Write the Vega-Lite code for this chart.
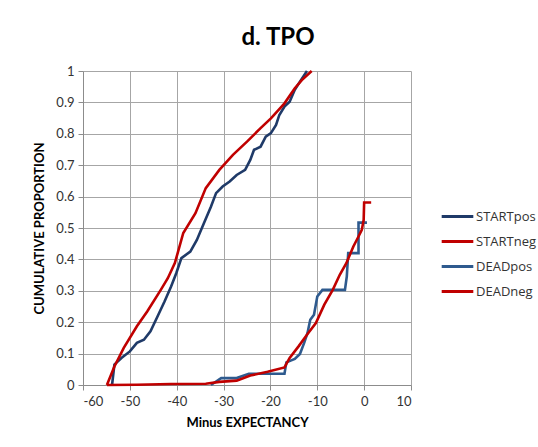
{
  "$schema": "https://vega.github.io/schema/vega-lite/v6.json",
  "autosize": "none",
  "width": 328,
  "height": 314,
  "padding": {"left": 83, "top": 71, "right": 127, "bottom": 62},
  "background": "white",
  "title": {"text": "d. TPO", "font": "Lato", "fontSize": 24, "fontWeight": "bold", "color": "#000000", "anchor": "middle", "frame": "group", "dx": 31, "baseline": "alphabetic", "offset": 24, "dy": 28},
  "datasets": {
    "curves": [
      {"series": "STARTpos", "x": -53.8, "y": 0},
      {"series": "STARTpos", "x": -53.3, "y": 0.065},
      {"series": "STARTpos", "x": -51.8, "y": 0.086},
      {"series": "STARTpos", "x": -50.0, "y": 0.107},
      {"series": "STARTpos", "x": -48.5, "y": 0.134},
      {"series": "STARTpos", "x": -47.0, "y": 0.144},
      {"series": "STARTpos", "x": -45.6, "y": 0.171},
      {"series": "STARTpos", "x": -44.1, "y": 0.218},
      {"series": "STARTpos", "x": -42.6, "y": 0.266},
      {"series": "STARTpos", "x": -41.2, "y": 0.314},
      {"series": "STARTpos", "x": -40.1, "y": 0.356},
      {"series": "STARTpos", "x": -39.0, "y": 0.404},
      {"series": "STARTpos", "x": -37.1, "y": 0.425},
      {"series": "STARTpos", "x": -35.7, "y": 0.462},
      {"series": "STARTpos", "x": -34.2, "y": 0.515},
      {"series": "STARTpos", "x": -32.7, "y": 0.568},
      {"series": "STARTpos", "x": -31.6, "y": 0.611},
      {"series": "STARTpos", "x": -30.2, "y": 0.632},
      {"series": "STARTpos", "x": -28.7, "y": 0.648},
      {"series": "STARTpos", "x": -27.2, "y": 0.669},
      {"series": "STARTpos", "x": -25.4, "y": 0.685},
      {"series": "STARTpos", "x": -24.3, "y": 0.717},
      {"series": "STARTpos", "x": -23.5, "y": 0.749},
      {"series": "STARTpos", "x": -22.1, "y": 0.759},
      {"series": "STARTpos", "x": -21.0, "y": 0.791},
      {"series": "STARTpos", "x": -19.9, "y": 0.802},
      {"series": "STARTpos", "x": -18.8, "y": 0.828},
      {"series": "STARTpos", "x": -18.1, "y": 0.860},
      {"series": "STARTpos", "x": -17.0, "y": 0.887},
      {"series": "STARTpos", "x": -15.9, "y": 0.902},
      {"series": "STARTpos", "x": -14.8, "y": 0.940},
      {"series": "STARTpos", "x": -13.7, "y": 0.966},
      {"series": "STARTpos", "x": -12.2, "y": 1.0},
      {"series": "STARTneg", "x": -54.9, "y": 0},
      {"series": "STARTneg", "x": -53.3, "y": 0.059},
      {"series": "STARTneg", "x": -51.3, "y": 0.118},
      {"series": "STARTneg", "x": -48.5, "y": 0.187},
      {"series": "STARTneg", "x": -46.3, "y": 0.234},
      {"series": "STARTneg", "x": -43.4, "y": 0.303},
      {"series": "STARTneg", "x": -41.9, "y": 0.340},
      {"series": "STARTneg", "x": -40.4, "y": 0.388},
      {"series": "STARTneg", "x": -38.6, "y": 0.484},
      {"series": "STARTneg", "x": -36.0, "y": 0.547},
      {"series": "STARTneg", "x": -33.8, "y": 0.627},
      {"series": "STARTneg", "x": -30.9, "y": 0.685},
      {"series": "STARTneg", "x": -28.0, "y": 0.733},
      {"series": "STARTneg", "x": -25.0, "y": 0.775},
      {"series": "STARTneg", "x": -22.1, "y": 0.818},
      {"series": "STARTneg", "x": -19.9, "y": 0.849},
      {"series": "STARTneg", "x": -17.0, "y": 0.897},
      {"series": "STARTneg", "x": -14.8, "y": 0.945},
      {"series": "STARTneg", "x": -13.3, "y": 0.971},
      {"series": "STARTneg", "x": -11.2, "y": 1.0},
      {"series": "DEADpos", "x": -32.7, "y": 0},
      {"series": "DEADpos", "x": -30.5, "y": 0.022},
      {"series": "DEADpos", "x": -27.2, "y": 0.022},
      {"series": "DEADpos", "x": -24.6, "y": 0.036},
      {"series": "DEADpos", "x": -17.0, "y": 0.036},
      {"series": "DEADpos", "x": -16.6, "y": 0.072},
      {"series": "DEADpos", "x": -14.8, "y": 0.083},
      {"series": "DEADpos", "x": -13.7, "y": 0.099},
      {"series": "DEADpos", "x": -12.8, "y": 0.134},
      {"series": "DEADpos", "x": -12.1, "y": 0.165},
      {"series": "DEADpos", "x": -11.5, "y": 0.208},
      {"series": "DEADpos", "x": -10.7, "y": 0.224},
      {"series": "DEADpos", "x": -10.0, "y": 0.282},
      {"series": "DEADpos", "x": -8.9, "y": 0.303},
      {"series": "DEADpos", "x": -4.1, "y": 0.303},
      {"series": "DEADpos", "x": -3.7, "y": 0.346},
      {"series": "DEADpos", "x": -3.4, "y": 0.420},
      {"series": "DEADpos", "x": -1.2, "y": 0.420},
      {"series": "DEADpos", "x": -1.2, "y": 0.517},
      {"series": "DEADpos", "x": 0.6, "y": 0.517},
      {"series": "DEADneg", "x": -54.9, "y": 0},
      {"series": "DEADneg", "x": -48.5, "y": 0.001},
      {"series": "DEADneg", "x": -41.2, "y": 0.003},
      {"series": "DEADneg", "x": -33.8, "y": 0.004},
      {"series": "DEADneg", "x": -30.9, "y": 0.010},
      {"series": "DEADneg", "x": -27.2, "y": 0.014},
      {"series": "DEADneg", "x": -24.3, "y": 0.030},
      {"series": "DEADneg", "x": -20.6, "y": 0.042},
      {"series": "DEADneg", "x": -17.0, "y": 0.056},
      {"series": "DEADneg", "x": -15.9, "y": 0.086},
      {"series": "DEADneg", "x": -14.0, "y": 0.123},
      {"series": "DEADneg", "x": -12.2, "y": 0.160},
      {"series": "DEADneg", "x": -10.3, "y": 0.197},
      {"series": "DEADneg", "x": -8.5, "y": 0.256},
      {"series": "DEADneg", "x": -6.7, "y": 0.303},
      {"series": "DEADneg", "x": -5.2, "y": 0.351},
      {"series": "DEADneg", "x": -3.8, "y": 0.388},
      {"series": "DEADneg", "x": -2.3, "y": 0.441},
      {"series": "DEADneg", "x": -1.2, "y": 0.473},
      {"series": "DEADneg", "x": -0.5, "y": 0.494},
      {"series": "DEADneg", "x": -0.1, "y": 0.526},
      {"series": "DEADneg", "x": 0.0, "y": 0.581},
      {"series": "DEADneg", "x": 1.5, "y": 0.581}
    ]
  },
  "data": {"name": "curves"},
  "mark": {"type": "line", "strokeWidth": 2.6, "clip": false},
  "encoding": {
    "x": {
      "field": "x", "type": "quantitative",
      "scale": {"domain": [-60, 10], "nice": false, "zero": false},
      "axis": {"title": "Minus EXPECTANCY", "values": [-60, -50, -40, -30, -20, -10, 0, 10], "labelExpr": "'' + datum.value",
        "grid": true, "gridColor": "#A6A6A6", "gridWidth": 1,
        "domainColor": "#8C8C8C", "tickColor": "#8C8C8C", "tickSize": 5,
        "labelFont": "Lato", "labelFontSize": 13, "labelColor": "#333333", "labelPadding": 5,
        "titleFont": "Lato", "titleFontSize": 13, "titleFontWeight": "bold", "titleColor": "#000000", "titlePadding": 8}
    },
    "y": {
      "field": "y", "type": "quantitative",
      "scale": {"domain": [0, 1], "nice": false},
      "axis": {"title": "CUMULATIVE PROPORTION", "values": [0, 0.1, 0.2, 0.3, 0.4, 0.5, 0.6, 0.7, 0.8, 0.9, 1], "format": "~g",
        "grid": true, "gridColor": "#A6A6A6", "gridWidth": 1,
        "domainColor": "#8C8C8C", "tickColor": "#8C8C8C", "tickSize": 5,
        "labelFont": "Lato", "labelFontSize": 13, "labelColor": "#333333", "labelPadding": 4,
        "titleFont": "Lato", "titleFontSize": 13, "titleFontWeight": "bold", "titleColor": "#000000", "titlePadding": 9}
    },
    "color": {
      "field": "series", "type": "nominal",
      "scale": {"domain": ["STARTpos", "STARTneg", "DEADpos", "DEADneg"], "range": ["#1F3A68", "#C00000", "#2E5A8E", "#C00000"]},
      "legend": {"title": null, "orient": "none", "legendX": 357, "legendY": 128, "symbolType": "stroke", "symbolSize": 1000, "symbolStrokeWidth": 3,
        "labelFont": "Open Sans", "labelFontSize": 13, "labelColor": "#333333", "labelOffset": 1, "rowPadding": -3, "padding": 0}
    },
    "order": {"value": null}
  },
  "config": {"view": {"stroke": null}}
}
